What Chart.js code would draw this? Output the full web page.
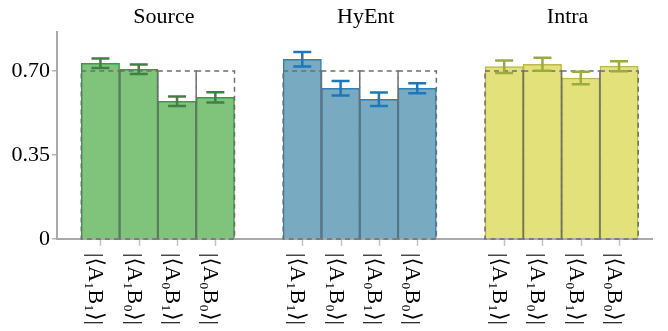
<!DOCTYPE html>
<html>
<head>
<meta charset="utf-8">
<script src="https://cdn.jsdelivr.net/npm/chart.js@4.4.0/dist/chart.umd.min.js"></script>
<style>
    html, body { margin: 0; padding: 0; background: #fff; }
    #wrap { width: 668px; height: 331px; }
</style>
</head>
<body>
<div id="wrap"><canvas id="chart"></canvas></div>
<script>
'use strict';

// data
var groups = ['Source', 'HyEnt', 'Intra'];
var correlators = ['|⟨A₁B₁⟩|', '|⟨A₁B₀⟩|', '|⟨A₀B₁⟩|', '|⟨A₀B₀⟩|'];
var sourceValues = [0.732, 0.707, 0.574, 0.590];
var sourceErrors = [0.020, 0.020, 0.020, 0.021];
var hyentValues = [0.749, 0.628, 0.582, 0.628];
var hyentErrors = [0.030, 0.030, 0.028, 0.021];
var intraValues = [0.718, 0.728, 0.671, 0.720];
var intraErrors = [0.026, 0.027, 0.026, 0.021];
var bound = 0.70;
var yTicks = [0, 0.35, 0.70];

var FONT = '"Liberation Serif", "DejaVu Serif", serif';
var groupStep = 5.27;

var fills = ['#80c47c', '#78abc2', '#e3e17a'];
var borders = ['#3b9a4c', '#2f81b6', '#b9b94e'];
var errColors = ['#3e8046', '#1d77bd', '#9cab3c'];
var allValues = [sourceValues, hyentValues, intraValues];
var allErrors = [sourceErrors, hyentErrors, intraErrors];

function pos(g, i) {
    return g * groupStep + i;
}

var positions = [];
groups.forEach(function (g, gi) {
    correlators.forEach(function (c, i) {
        positions.push(pos(gi, i));
    });
});

var datasets = groups.map(function (name, gi) {
    return {
        label: name,
        data: allValues[gi].map(function (v, i) { return { x: pos(gi, i), y: v }; }),
        backgroundColor: fills[gi],
        borderColor: borders[gi],
        borderWidth: 1.5
    };
});

var extras = {
    id: 'extras',
    afterDatasetsDraw: function (chart) {
        var ctx = chart.ctx, x = chart.scales.x, y = chart.scales.y;
        var y0 = y.getPixelForValue(0), yb = y.getPixelForValue(bound);

        // dashed reference boxes
        ctx.save();
        ctx.strokeStyle = '#6e6e6e';
        ctx.lineWidth = 1.5;
        ctx.setLineDash([5, 4]);
        positions.forEach(function (p) {
            var l = x.getPixelForValue(p - 0.5), r = x.getPixelForValue(p + 0.5);
            ctx.strokeRect(l, yb, r - l, y0 - yb);
        });
        ctx.restore();

        // error bars
        ctx.save();
        ctx.lineWidth = 2.5;
        groups.forEach(function (g, gi) {
            ctx.strokeStyle = errColors[gi];
            allValues[gi].forEach(function (v, i) {
                var e = allErrors[gi][i];
                var cx = x.getPixelForValue(pos(gi, i));
                var lo = y.getPixelForValue(v - e), hi = y.getPixelForValue(v + e);
                ctx.beginPath();
                ctx.moveTo(cx, lo); ctx.lineTo(cx, hi);
                ctx.moveTo(cx - 9, lo); ctx.lineTo(cx + 9, lo);
                ctx.moveTo(cx - 9, hi); ctx.lineTo(cx + 9, hi);
                ctx.stroke();
            });
        });
        ctx.restore();
    },
    afterDraw: function (chart) {
        var ctx = chart.ctx, x = chart.scales.x;
        var axisY = chart.chartArea.bottom;
        ctx.save();

        // small tick marks under the axis
        ctx.strokeStyle = '#c4c4c4';
        ctx.lineWidth = 1.5;
        ctx.beginPath();
        positions.forEach(function (p) {
            var px = Math.round(x.getPixelForValue(p)) + 0.5;
            ctx.moveTo(px, axisY + 1);
            ctx.lineTo(px, axisY + 7);
        });
        ctx.stroke();

        ctx.fillStyle = '#000';
        ctx.font = '22px ' + FONT;

        // group titles
        ctx.textAlign = 'center';
        ctx.textBaseline = 'middle';
        groups.forEach(function (g, gi) {
            ctx.fillText(g, x.getPixelForValue(pos(gi, 1.5)) + 6, 17);
        });

        // rotated correlator labels
        ctx.textAlign = 'left';
        ctx.textBaseline = 'alphabetic';
        groups.forEach(function (g, gi) {
            correlators.forEach(function (c, i) {
                var cx = x.getPixelForValue(pos(gi, i));
                ctx.save();
                ctx.translate(cx - 11, 253);
                ctx.rotate(Math.PI / 2);
                ctx.fillText(c, 0, 0);
                ctx.restore();
            });
        });
        ctx.restore();
    }
};

window.onload = function () {
    var ctx = document.getElementById('chart').getContext('2d');
    window.myBar = new Chart(ctx, {
        type: 'bar',
        data: { datasets: datasets },
        options: {
            responsive: true,
            maintainAspectRatio: false,
            animation: false,
            layout: { padding: { top: 32, right: 16, left: 0, bottom: 0 } },
            plugins: { legend: { display: false }, tooltip: { enabled: false } },
            datasets: {
                bar: { grouped: false, barPercentage: 1, categoryPercentage: 1, borderSkipped: 'start' }
            },
            scales: {
                x: {
                    type: 'linear',
                    offset: false,
                    min: -1.134,
                    max: 14.40,
                    afterBuildTicks: function (s) {
                        s.ticks = positions.map(function (p) { return { value: p }; });
                    },
                    afterFit: function (s) {
                        s.height = 92;
                        s.paddingLeft = 0;
                        s.paddingRight = 0;
                    },
                    ticks: { display: false },
                    grid: { display: false },
                    border: { display: true, color: '#a9a9a9', width: 2 }
                },
                y: {
                    min: 0,
                    max: 0.8625,
                    afterBuildTicks: function (s) {
                        s.ticks = yTicks.map(function (v) { return { value: v }; });
                    },
                    afterFit: function (s) {
                        s.width = 57;
                        s.paddingTop = 0;
                        s.paddingBottom = 0;
                    },
                    ticks: {
                        color: '#000',
                        padding: 2,
                        font: { family: FONT, size: 22 },
                        callback: function (v) { return v === 0 ? '0' : v.toFixed(2); }
                    },
                    grid: { drawOnChartArea: false, tickLength: 5, color: '#b5b5b5', lineWidth: 1.5 },
                    border: { color: '#a9a9a9', width: 2 }
                }
            }
        },
        plugins: [extras]
    });
};
</script>
</body>
</html>
